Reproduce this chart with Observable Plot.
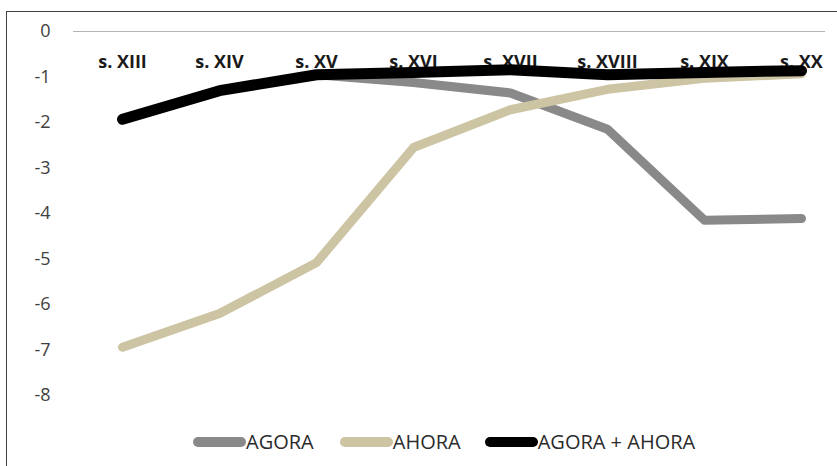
<!DOCTYPE html>
<html>
<head>
<meta charset="utf-8">
<script src="https://cdn.jsdelivr.net/npm/d3@7"></script>
<script src="https://cdn.jsdelivr.net/npm/@observablehq/plot@0.6"></script>
<style>
  html, body { margin: 0; padding: 0; background: #fff; }
  #wrap { position: relative; width: 837px; height: 466px; overflow: hidden; font-family: "Open Sans", sans-serif; }
  #border { position: absolute; left: 6px; top: 11px; width: 900px; height: 500px; border: 1px solid #404040; box-sizing: border-box; pointer-events: none; }
  #chart { position: absolute; left: 0; top: 0; }
  #legend { position: absolute; left: 193px; top: 428px; display: flex; align-items: center; font-size: 20px; color: #2b2b2b; }
  .item { display: flex; align-items: center; }
  .item svg { display: block; }
</style>
</head>
<body>
<div id="wrap">
  <div id="chart"></div>
  <div id="border"></div>
  <div id="legend"></div>
</div>
<script>
const categories = ["s. XIII", "s. XIV", "s. XV", "s. XVI", "s. XVII", "s. XVIII", "s. XIX", "s. XX"];
const agora = [-1.93, -1.30, -0.95, -1.12, -1.35, -2.15, -4.15, -4.11];
const ahora = [-6.94, -6.20, -5.08, -2.55, -1.72, -1.27, -1.03, -0.93];
const total = [-1.93, -1.30, -0.95, -0.90, -0.84, -0.95, -0.90, -0.86];
const yTicks = [0, -1, -2, -3, -4, -5, -6, -7, -8];

const seriesNames = ["AGORA", "AHORA", "AGORA + AHORA"];
const seriesColors = ["#898989", "#ccc4a3", "#000000"];
const seriesWidths = [9, 9, 11];
const seriesValues = [agora, ahora, total];

const rows = [];
seriesNames.forEach((name, s) => {
  categories.forEach((c, i) => rows.push({series: name, cat: c, value: seriesValues[s][i]}));
});

const lineMarks = seriesNames.map((name, s) =>
  Plot.line(rows.filter(r => r.series === name), {
    x: "cat", y: "value",
    stroke: seriesColors[s], strokeWidth: seriesWidths[s],
    strokeLinecap: "round", strokeLinejoin: "round"
  })
);

const chart = Plot.plot({
  width: 837,
  height: 420,
  marginTop: 31,
  marginBottom: 25,
  marginLeft: 73,
  marginRight: 12,
  style: {fontFamily: "Open Sans, sans-serif", background: "transparent", overflow: "visible"},
  x: {type: "point", domain: categories, range: [122, 801], padding: 0},
  y: {domain: [-8, 0], range: [395, 31]},
  marks: [
    Plot.ruleY([0], {stroke: "#b4b4b4", strokeWidth: 1}),
    Plot.axisY({ticks: yTicks, tickSize: 0, tickPadding: 23, fontSize: 18, fill: "#404040", tickFormat: d => String(d), label: null}),
    Plot.axisX({anchor: "top", tickSize: 0, tickPadding: 0, fontSize: 18, fontWeight: "bold", fill: "#1a1a1a", dy: 36, label: null}),
    ...lineMarks
  ]
});
document.getElementById("chart").appendChild(chart);

const legend = document.getElementById("legend");
const gaps = [0, 26, 24];
seriesNames.forEach((name, s) => {
  const item = document.createElement("div");
  item.className = "item";
  item.style.marginLeft = gaps[s] + "px";
  const sw = d3.create("svg").attr("width", 53).attr("height", 14);
  sw.append("line").attr("x1", 5).attr("x2", 48).attr("y1", 7).attr("y2", 7)
    .attr("stroke", seriesColors[s]).attr("stroke-width", 10).attr("stroke-linecap", "round");
  item.appendChild(sw.node());
  const t = document.createElement("span");
  t.textContent = name;
  item.appendChild(t);
  legend.appendChild(item);
});
</script>
</body>
</html>
